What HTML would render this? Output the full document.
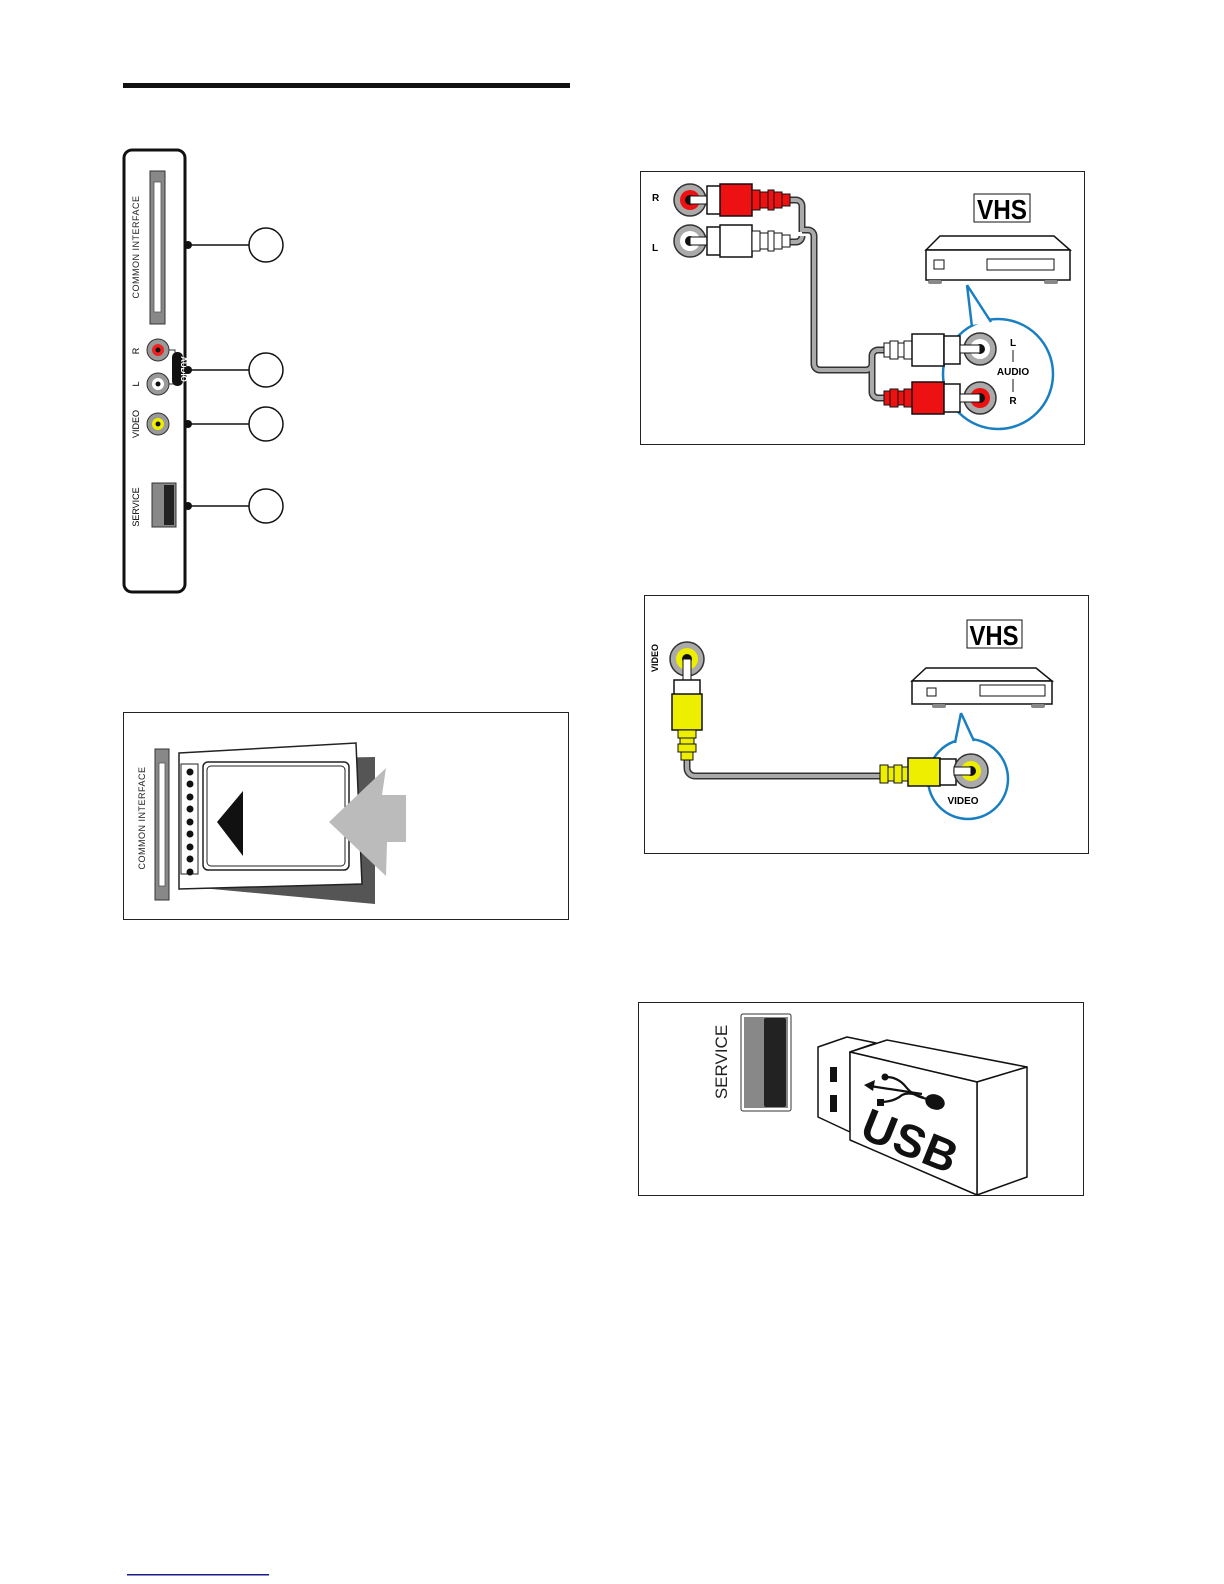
<!DOCTYPE html>
<html><head><meta charset="utf-8"><style>
html,body{margin:0;padding:0;background:#fff}
svg{display:block}
text{font-family:"Liberation Sans",sans-serif}
</style></head><body>
<svg width="1224" height="1584" viewBox="0 0 1224 1584" xmlns="http://www.w3.org/2000/svg">
<rect x="0" y="0" width="1224" height="1584" fill="#fff"/>
<rect x="123" y="83" width="447" height="5" fill="#111"/>

<!-- LEFT PANEL -->
<rect x="124" y="150" width="61" height="442" rx="8" fill="#fff" stroke="#111" stroke-width="3"/>
<rect x="150" y="171" width="15" height="153" fill="#888" stroke="#333" stroke-width="1"/>
<rect x="154" y="182" width="7" height="130" fill="#fff" stroke="#555" stroke-width="0.8"/>
<text transform="translate(139,247) rotate(-90)" font-size="9" text-anchor="middle" fill="#222" letter-spacing="0.5">COMMON INTERFACE</text>
<text transform="translate(139,351) rotate(-90)" font-size="9" text-anchor="middle">R</text>
<text transform="translate(139,384) rotate(-90)" font-size="9" text-anchor="middle">L</text>
<text transform="translate(139,424) rotate(-90)" font-size="9" text-anchor="middle">VIDEO</text>
<text transform="translate(139,507) rotate(-90)" font-size="9" text-anchor="middle">SERVICE</text>
<path d="M168,350 h7 v34 h-7" fill="none" stroke="#333" stroke-width="1"/>
<circle cx="158" cy="350" r="11" fill="#999" stroke="#333"/><circle cx="158" cy="350" r="6" fill="#e22"/><circle cx="158" cy="350" r="2.5" fill="#111"/>
<circle cx="158" cy="384" r="11" fill="#999" stroke="#333"/><circle cx="158" cy="384" r="6" fill="#fff"/><circle cx="158" cy="384" r="2.5" fill="#111"/>
<circle cx="158" cy="424" r="11" fill="#999" stroke="#333"/><circle cx="158" cy="424" r="6" fill="#ee0"/><circle cx="158" cy="424" r="2.5" fill="#111"/>
<rect x="172" y="352" width="11" height="34" rx="5" fill="#111"/>
<text transform="translate(181,369) rotate(90)" font-size="8" font-weight="bold" fill="#fff" text-anchor="middle">AUDIO</text>
<rect x="152" y="483" width="24" height="44" fill="#888" stroke="#333"/>
<rect x="164" y="485" width="10" height="40" fill="#222"/>
<g stroke="#111" stroke-width="1.5" fill="#fff">
<line x1="188" y1="245" x2="249" y2="245"/><circle cx="266" cy="245" r="17"/>
<line x1="188" y1="370" x2="249" y2="370"/><circle cx="266" cy="370" r="17"/>
<line x1="188" y1="424" x2="249" y2="424"/><circle cx="266" cy="424" r="17"/>
<line x1="188" y1="506" x2="249" y2="506"/><circle cx="266" cy="506" r="17"/>
</g>
<circle cx="188" cy="245" r="4" fill="#111"/><circle cx="188" cy="370" r="4" fill="#111"/>
<circle cx="188" cy="424" r="4" fill="#111"/><circle cx="188" cy="506" r="4" fill="#111"/>

<!-- CI CARD BOX -->
<rect x="123.5" y="712.5" width="445" height="207" fill="#fff" stroke="#222"/>
<rect x="155" y="749" width="14" height="151" fill="#888" stroke="#333"/>
<rect x="159" y="763" width="6" height="123" fill="#fff" stroke="#555" stroke-width="0.8"/>
<text transform="translate(145,818) rotate(-90)" font-size="9" text-anchor="middle" fill="#222" letter-spacing="0.5">COMMON INTERFACE</text>
<polygon points="201,760 375,757 375,904 201,888" fill="#555"/>
<polygon points="179,753 356,743 362,884 179,889" fill="#fff" stroke="#222" stroke-width="1.5"/>
<rect x="203" y="762" width="146" height="108" rx="5" fill="#fff" stroke="#222" stroke-width="1.5"/>
<rect x="207" y="766" width="138" height="100" rx="4" fill="none" stroke="#222"/>
<rect x="181" y="764" width="17" height="110" fill="#fff" stroke="#222"/>
<g fill="#111"><circle cx="190" cy="772" r="3.5"/><circle cx="190" cy="784" r="3.5"/><circle cx="190" cy="797" r="3.5"/><circle cx="190" cy="809" r="3.5"/><circle cx="190" cy="822" r="3.5"/><circle cx="190" cy="834" r="3.5"/><circle cx="190" cy="847" r="3.5"/><circle cx="190" cy="859" r="3.5"/><circle cx="190" cy="872" r="3.5"/></g>
<polygon points="217,822 243,791 243,856" fill="#111"/>
<polygon points="329,822 386,768 382,795 406,795 406,842 387,842 386,876" fill="#bbb"/>

<!-- AUDIO BOX -->
<rect x="640.5" y="171.5" width="444" height="273" fill="#fff" stroke="#222"/>
<text x="652" y="201" font-size="10" font-weight="bold">R</text>
<text x="652" y="251" font-size="10" font-weight="bold">L</text>
<path d="M790,200 h6 a6,6 0 0 1 6,6 v26 M790,242 h6 a6,6 0 0 0 6,-6 M802,230 h6 a6,6 0 0 1 6,6 v128 a6,6 0 0 0 6,6 h46 a6,6 0 0 0 6,-6 v0 M872,372 v-16 a6,6 0 0 1 6,-6 h6 M872,372 v20 a6,6 0 0 0 6,6 h6" fill="none" stroke="#333" stroke-width="7"/>
<path d="M790,200 h6 a6,6 0 0 1 6,6 v26 M790,242 h6 a6,6 0 0 0 6,-6 M802,230 h6 a6,6 0 0 1 6,6 v128 a6,6 0 0 0 6,6 h46 a6,6 0 0 0 6,-6 v0 M872,372 v-16 a6,6 0 0 1 6,-6 h6 M872,372 v20 a6,6 0 0 0 6,6 h6" fill="none" stroke="#aaa" stroke-width="4"/>
<circle cx="690" cy="200" r="16" fill="#aaa" stroke="#333" stroke-width="1.5"/><circle cx="690" cy="200" r="10" fill="#e11"/><circle cx="690" cy="200" r="5" fill="#111"/>
<circle cx="690" cy="241" r="16" fill="#aaa" stroke="#333" stroke-width="1.5"/><circle cx="690" cy="241" r="10" fill="#fff"/><circle cx="690" cy="241" r="5" fill="#111"/>
<rect x="690" y="196" width="20" height="8" fill="#fff" stroke="#111"/>
<rect x="690" y="237" width="20" height="8" fill="#fff" stroke="#111"/>
<rect x="707" y="186" width="14" height="28" fill="#fff" stroke="#111" stroke-width="1.5"/>
<rect x="720" y="184" width="32" height="32" fill="#e11" stroke="#111" stroke-width="1.5"/>
<rect x="752" y="190" width="8" height="20" fill="#e11" stroke="#111"/><rect x="760" y="192" width="8" height="16" fill="#e11" stroke="#111"/><rect x="768" y="190" width="6" height="20" fill="#e11" stroke="#111"/><rect x="774" y="192" width="8" height="16" fill="#e11" stroke="#111"/><rect x="782" y="194" width="8" height="12" fill="#e11" stroke="#111"/>
<rect x="707" y="227" width="14" height="28" fill="#fff" stroke="#111" stroke-width="1.5"/>
<rect x="720" y="225" width="32" height="32" fill="#fff" stroke="#111" stroke-width="1.5"/>
<rect x="752" y="231" width="8" height="20" fill="#fff" stroke="#111"/><rect x="760" y="233" width="8" height="16" fill="#fff" stroke="#111"/><rect x="768" y="231" width="6" height="20" fill="#fff" stroke="#111"/><rect x="774" y="233" width="8" height="16" fill="#fff" stroke="#111"/><rect x="782" y="235" width="8" height="12" fill="#fff" stroke="#111"/>
<!-- VCR -->
<rect x="974" y="194" width="56" height="28" fill="#fff" stroke="#111"/>
<text x="1002" y="219" font-size="28" font-weight="bold" text-anchor="middle" textLength="50" lengthAdjust="spacingAndGlyphs">VHS</text>
<polygon points="926,250 940,236 1054,236 1070,250" fill="#fff" stroke="#111" stroke-width="1.5"/>
<rect x="926" y="250" width="144" height="30" fill="#fff" stroke="#111" stroke-width="1.5"/>
<rect x="934" y="260" width="10" height="9" fill="#fff" stroke="#111"/>
<rect x="987" y="259" width="67" height="11" fill="#fff" stroke="#111"/>
<rect x="928" y="280" width="14" height="4" rx="2" fill="#888"/><rect x="1044" y="280" width="14" height="4" rx="2" fill="#888"/>
<!-- callout -->
<circle cx="998" cy="374" r="55" fill="none" stroke="#1a7fc1" stroke-width="2.5"/>
<polygon points="967,287 972,325 990,322" fill="#fff"/>
<path d="M967,285 L972,327 M967,285 L991,322" fill="none" stroke="#1a7fc1" stroke-width="2.5"/>
<rect x="884" y="343" width="6" height="14" fill="#fff" stroke="#111"/><rect x="890" y="341" width="8" height="18" fill="#fff" stroke="#111"/><rect x="898" y="343" width="6" height="14" fill="#fff" stroke="#111"/><rect x="904" y="341" width="8" height="18" fill="#fff" stroke="#111"/>
<rect x="912" y="334" width="32" height="32" fill="#fff" stroke="#111" stroke-width="1.5"/>
<rect x="944" y="336" width="16" height="28" fill="#fff" stroke="#111" stroke-width="1.5"/>
<rect x="884" y="391" width="6" height="14" fill="#e11" stroke="#111"/><rect x="890" y="389" width="8" height="18" fill="#e11" stroke="#111"/><rect x="898" y="391" width="6" height="14" fill="#e11" stroke="#111"/><rect x="904" y="389" width="8" height="18" fill="#e11" stroke="#111"/>
<rect x="912" y="382" width="32" height="32" fill="#e11" stroke="#111" stroke-width="1.5"/>
<rect x="944" y="384" width="16" height="28" fill="#fff" stroke="#111" stroke-width="1.5"/>
<circle cx="980" cy="349" r="16" fill="#aaa" stroke="#333" stroke-width="1.5"/><circle cx="980" cy="349" r="10" fill="#fff"/><circle cx="980" cy="349" r="5" fill="#111"/>
<circle cx="980" cy="398" r="16" fill="#aaa" stroke="#333" stroke-width="1.5"/><circle cx="980" cy="398" r="10" fill="#e11"/><circle cx="980" cy="398" r="5" fill="#111"/>
<rect x="960" y="345" width="20" height="8" fill="#fff" stroke="#111"/>
<rect x="960" y="394" width="20" height="8" fill="#fff" stroke="#111"/>
<text x="1013" y="346" font-size="10" font-weight="bold" text-anchor="middle">L</text>
<line x1="1013" y1="350" x2="1013" y2="362" stroke="#111"/>
<text x="1013" y="375" font-size="10" font-weight="bold" text-anchor="middle">AUDIO</text>
<line x1="1013" y1="379" x2="1013" y2="392" stroke="#111"/>
<text x="1013" y="404" font-size="10" font-weight="bold" text-anchor="middle">R</text>

<!-- VIDEO BOX -->
<rect x="644.5" y="595.5" width="444" height="258" fill="#fff" stroke="#222"/>
<text transform="translate(658,658) rotate(-90)" font-size="9" font-weight="bold" text-anchor="middle">VIDEO</text>
<path d="M687,760 v8 a8,8 0 0 0 8,8 h185" fill="none" stroke="#333" stroke-width="7"/>
<path d="M687,760 v8 a8,8 0 0 0 8,8 h185" fill="none" stroke="#aaa" stroke-width="4"/>
<circle cx="687" cy="659" r="17" fill="#aaa" stroke="#333" stroke-width="1.5"/><circle cx="687" cy="659" r="11" fill="#ee0"/><circle cx="687" cy="659" r="5" fill="#111"/>
<rect x="683" y="659" width="8" height="22" fill="#fff" stroke="#111"/>
<rect x="674" y="680" width="26" height="15" fill="#fff" stroke="#111" stroke-width="1.5"/>
<rect x="672" y="694" width="30" height="36" fill="#ee0" stroke="#111" stroke-width="1.5"/>
<rect x="678" y="730" width="18" height="8" fill="#ee0" stroke="#111"/><rect x="680" y="738" width="14" height="6" fill="#ee0" stroke="#111"/><rect x="678" y="744" width="18" height="8" fill="#ee0" stroke="#111"/><rect x="681" y="752" width="12" height="8" fill="#ee0" stroke="#111"/>
<circle cx="968" cy="779" r="40" fill="none" stroke="#1a7fc1" stroke-width="2.5"/>
<polygon points="961,715 955,742 974,741" fill="#fff"/>
<path d="M961,713 L955,743 M961,713 L974,741" fill="none" stroke="#1a7fc1" stroke-width="2.5"/>
<rect x="880" y="765" width="8" height="18" fill="#ee0" stroke="#111"/><rect x="888" y="767" width="6" height="14" fill="#ee0" stroke="#111"/><rect x="894" y="765" width="8" height="18" fill="#ee0" stroke="#111"/><rect x="902" y="767" width="6" height="14" fill="#ee0" stroke="#111"/>
<rect x="908" y="758" width="32" height="28" fill="#ee0" stroke="#111" stroke-width="1.5"/>
<rect x="940" y="759" width="16" height="26" fill="#fff" stroke="#111" stroke-width="1.5"/>
<circle cx="971" cy="771" r="17" fill="#aaa" stroke="#333" stroke-width="1.5"/><circle cx="971" cy="771" r="10" fill="#ee0"/><circle cx="971" cy="771" r="5" fill="#111"/>
<rect x="954" y="767" width="17" height="8" fill="#fff" stroke="#111"/>
<text x="963" y="804" font-size="10" font-weight="bold" text-anchor="middle">VIDEO</text>
<rect x="967" y="620" width="55" height="28" fill="#fff" stroke="#111"/>
<text x="994" y="645" font-size="28" font-weight="bold" text-anchor="middle" textLength="49" lengthAdjust="spacingAndGlyphs">VHS</text>
<polygon points="912,681 926,668 1036,668 1052,681" fill="#fff" stroke="#111" stroke-width="1.5"/>
<rect x="912" y="681" width="140" height="23" fill="#fff" stroke="#111" stroke-width="1.5"/>
<rect x="927" y="688" width="9" height="8" fill="#fff" stroke="#111"/>
<rect x="980" y="685" width="65" height="11" fill="#fff" stroke="#111"/>
<rect x="932" y="704" width="14" height="4" rx="2" fill="#888"/><rect x="1031" y="704" width="14" height="4" rx="2" fill="#888"/>

<!-- USB BOX -->
<rect x="638.5" y="1002.5" width="445" height="193" fill="#fff" stroke="#222"/>
<text transform="translate(727,1062) rotate(-90)" font-size="17" text-anchor="middle" fill="#222">SERVICE</text>
<rect x="741" y="1014" width="50" height="97" rx="2" fill="#fff" stroke="#333"/>
<rect x="744" y="1017" width="44" height="91" fill="#888"/>
<rect x="764" y="1018" width="22" height="89" rx="2" fill="#222"/>
<g fill="#fff" stroke="#111" stroke-width="1.5" stroke-linejoin="round">
<polygon points="818,1047 847,1037 876,1043 850,1052 850,1132 818,1117"/>
<polygon points="850,1052 887,1040 1027,1067 977,1082"/>
<polygon points="977,1082 1027,1067 1027,1177 977,1195"/>
<polygon points="850,1052 977,1082 977,1195 850,1140"/>
</g>
<rect x="830" y="1067" width="7" height="15" fill="#111"/>
<rect x="830" y="1095" width="7" height="17" fill="#111"/>
<text transform="translate(858,1137) rotate(22)" font-size="46" font-weight="bold" fill="#111" letter-spacing="1">USB</text>
<g fill="none" stroke="#111" stroke-width="2.2">
<line x1="870" y1="1086" x2="922" y2="1094"/>
<path d="M886,1077 q12,0 20,10 q8,10 22,12"/>
<path d="M880,1102 q14,0 22,-7 q8,-4 22,3"/>
</g>
<circle cx="885" cy="1077" r="3.5" fill="#111"/>
<rect x="877" y="1099" width="7" height="7" fill="#111"/>
<polygon points="864,1085 875,1080 873,1091" fill="#111"/>
<ellipse cx="935" cy="1102" rx="10" ry="7.5" fill="#111" transform="rotate(20 935 1102)"/>

<rect x="127" y="1574" width="142" height="1.5" fill="#1a1a8a"/>
</svg>
</body></html>
